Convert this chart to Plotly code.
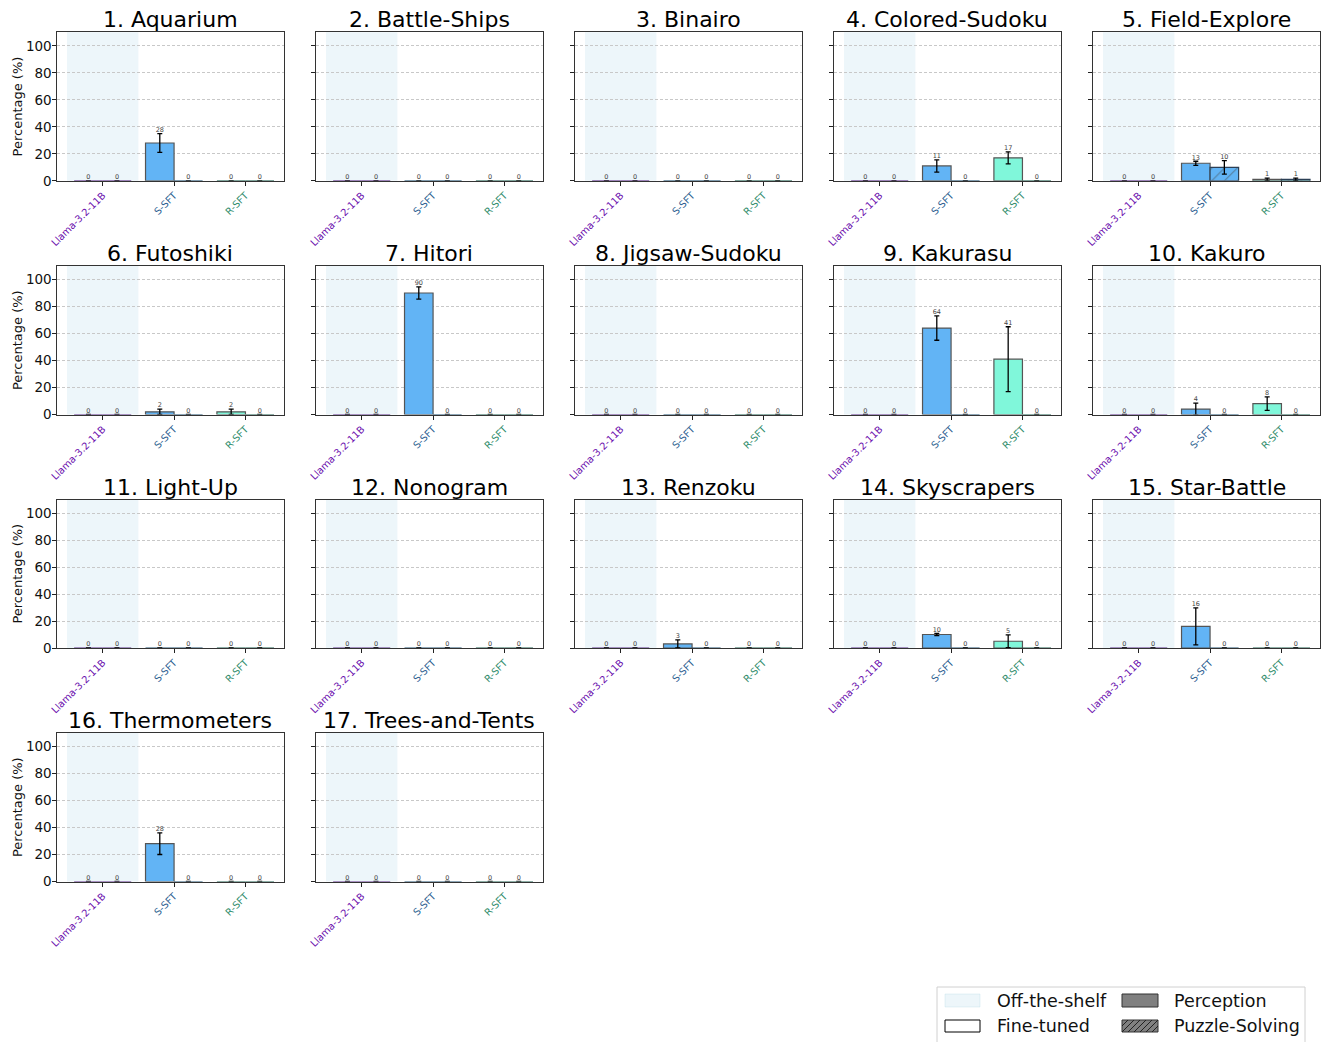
import plotly.graph_objects as go

# ---------------- data ----------------
puzzles = ["1. Aquarium", "2. Battle-Ships", "3. Binairo", "4. Colored-Sudoku", "5. Field-Explore",
           "6. Futoshiki", "7. Hitori", "8. Jigsaw-Sudoku", "9. Kakurasu", "10. Kakuro",
           "11. Light-Up", "12. Nonogram", "13. Renzoku", "14. Skyscrapers", "15. Star-Battle",
           "16. Thermometers", "17. Trees-and-Tents"]
models = ["Llama-3.2-11B", "S-SFT", "R-SFT"]

perception = [[0, 28, 0], [0, 0, 0], [0, 0, 0], [0, 11, 17], [0, 13, 1],
              [0, 2, 2], [0, 90, 0], [0, 0, 0], [0, 64, 41], [0, 4, 8],
              [0, 0, 0], [0, 0, 0], [0, 3, 0], [0, 10, 5], [0, 16, 0],
              [0, 28, 0], [0, 0, 0]]
perception_err = [[0, 7, 0], [0, 0, 0], [0, 0, 0], [0, 4.5, 4.5], [0, 1.5, 1],
                  [0, 2, 2], [0, 4.5, 0], [0, 0, 0], [0, 9, 24], [0, 4.5, 5],
                  [0, 0, 0], [0, 0, 0], [0, 3, 0], [0, 0.8, 4.7], [0, 13.7, 0],
                  [0, 8, 0], [0, 0, 0]]
puzzle_solving = [[0, 0, 0], [0, 0, 0], [0, 0, 0], [0, 0, 0], [0, 10, 1],
                  [0, 0, 0], [0, 0, 0], [0, 0, 0], [0, 0, 0], [0, 0, 0],
                  [0, 0, 0], [0, 0, 0], [0, 0, 0], [0, 0, 0], [0, 0, 0],
                  [0, 0, 0], [0, 0, 0]]
puzzle_err = [[0, 0, 0], [0, 0, 0], [0, 0, 0], [0, 0, 0], [0, 5, 1],
              [0, 0, 0], [0, 0, 0], [0, 0, 0], [0, 0, 0], [0, 0, 0],
              [0, 0, 0], [0, 0, 0], [0, 0, 0], [0, 0, 0], [0, 0, 0],
              [0, 0, 0], [0, 0, 0]]
y_ticks = [0, 20, 40, 60, 80, 100]

# ---------------- style ----------------
W, H = 1323, 1042
FONT = "DejaVu Sans"
bar_colors = ["#8e44ad", "#62b4f5", "#80f7da"]
zero_line_colors = ["#5b2a86", "#1f4e6e", "#1f5e4e"]
label_colors = ["#6a0dad", "#2a5d8f", "#2e8b6a"]
shade = "rgba(173,216,230,0.22)"

col_left = [57, 316, 575, 834, 1093]
row_top = [32.3, 266, 499.5, 733]
ax_w, ax_h = 227, 148.5


def px(x):
    return x / W


def py(y):
    return 1 - y / H


fig = go.Figure()
annotations = []
shapes = []

for i, name in enumerate(puzzles):
    r, c = divmod(i, 5)
    n = i + 1
    xa = "x" if n == 1 else f"x{n}"
    ya = "y" if n == 1 else f"y{n}"
    L, T = col_left[c], row_top[r]

    p_vals = perception[i]
    s_vals = puzzle_solving[i]
    p_err = [e if e else None for e in perception_err[i]]
    s_err = [e if e else None for e in puzzle_err[i]]

    p_line = ["#555555" if v else zero_line_colors[k] for k, v in enumerate(p_vals)]
    s_line = ["#2b3f55" if v else zero_line_colors[k] for k, v in enumerate(s_vals)]

    fig.add_trace(go.Bar(
        x=[0, 1, 2], y=p_vals, offset=-0.4, width=0.4,
        marker=dict(color=bar_colors, line=dict(color=p_line, width=1.2)),
        error_y=dict(type="data", array=p_err, color="black", thickness=1.3, width=2.5),
        xaxis=xa, yaxis=ya, showlegend=False, hoverinfo="skip"))
    fig.add_trace(go.Bar(
        x=[0, 1, 2], y=s_vals, offset=0, width=0.4,
        marker=dict(color=bar_colors, line=dict(color=s_line, width=1.2),
                    pattern=dict(shape="/", fgcolor="#2b3f55", fillmode="overlay", size=9, solidity=0.12)),
        error_y=dict(type="data", array=s_err, color="black", thickness=1.3, width=2.5),
        xaxis=xa, yaxis=ya, showlegend=False, hoverinfo="skip"))

    # value labels
    tx, ty, tt = [], [], []
    for k in range(3):
        tx.append(k - 0.2)
        ty.append(p_vals[k] + perception_err[i][k])
        tt.append(str(p_vals[k]))
        tx.append(k + 0.2)
        ty.append(s_vals[k] + puzzle_err[i][k])
        tt.append(str(s_vals[k]))
    fig.add_trace(go.Scatter(
        x=tx, y=ty, text=tt, mode="text", textposition="top center",
        textfont=dict(size=6.5, color="#444444", family=FONT),
        xaxis=xa, yaxis=ya, showlegend=False, hoverinfo="skip", cliponaxis=False))

    # off-the-shelf shading
    shapes.append(dict(type="rect", xref=xa, yref=f"{ya} domain", x0=-0.5, x1=0.5, y0=0, y1=1,
                       fillcolor=shade, line=dict(width=0), layer="below"))

    ticktext = [f"<span style='color:{label_colors[k]}'>{m}</span>" for k, m in enumerate(models)]
    fig.update_layout({
        ("xaxis" if n == 1 else f"xaxis{n}"): dict(
            domain=[px(L), px(L + ax_w)], anchor=ya, range=[-0.64, 2.54], automargin=False,
            tickvals=[0, 1, 2], ticktext=ticktext, tickangle=-45,
            tickfont=dict(size=9.8, family=FONT),
            ticks="outside", ticklen=4, tickcolor="#222", showgrid=False,
            showline=True, linecolor="#333", linewidth=1.2, mirror=True, zeroline=False),
        ("yaxis" if n == 1 else f"yaxis{n}"): dict(
            domain=[py(T + ax_h), py(T)], anchor=xa, range=[0, 110], automargin=False,
            tickvals=y_ticks, showticklabels=(c == 0),
            tickfont=dict(size=13.5, family=FONT, color="#111"),
            ticks="outside", ticklen=3.5, tickcolor="#222", ticklabelstandoff=-2,
            showgrid=True, gridcolor="#c8c8c8", griddash="3px,2px", gridwidth=0.8,
            showline=True, linecolor="#333", linewidth=1.2, mirror=True, zeroline=False,
            title=dict(text="Percentage (%)" if c == 0 else "", font=dict(size=13, family=FONT, color="#111"),
                       standoff=0)),
    })

    annotations.append(dict(text=name, x=px(L + ax_w / 2), y=py(T + 2), xref="paper", yref="paper",
                            xanchor="center", yanchor="bottom", showarrow=False,
                            font=dict(size=22, family=FONT, color="black")))

# ---------------- manual legend ----------------
shapes.append(dict(type="rect", xref="paper", yref="paper", x0=px(937), x1=px(1305), y0=py(1050), y1=py(987),
                   fillcolor="white", line=dict(color="#d0d0d0", width=1)))
shapes.append(dict(type="rect", xref="paper", yref="paper", x0=px(945), x1=px(980), y0=py(1007), y1=py(994),
                   fillcolor=shade, line=dict(color="rgba(173,216,230,0.35)", width=0.8)))
shapes.append(dict(type="rect", xref="paper", yref="paper", x0=px(945), x1=px(980), y0=py(1032), y1=py(1020),
                   fillcolor="white", line=dict(color="black", width=1)))
shapes.append(dict(type="rect", xref="paper", yref="paper", x0=px(1122), x1=px(1158), y0=py(1007), y1=py(994),
                   fillcolor="#808080", line=dict(color="#333", width=1)))
shapes.append(dict(type="rect", xref="paper", yref="paper", x0=px(1122), x1=px(1158), y0=py(1032), y1=py(1020),
                   fillcolor="#808080", line=dict(color="#333", width=1)))
hx0, hx1, hy0, hy1 = 1122, 1158, 1020, 1032
hh = hy1 - hy0
k = hx0 - hh
while k < hx1:
    xa0, ya0, xa1, ya1 = k, hy1, k + hh, hy0
    if xa0 < hx0:
        ya0 = hy1 - (hx0 - xa0)
        xa0 = hx0
    if xa1 > hx1:
        ya1 = hy0 + (xa1 - hx1)
        xa1 = hx1
    if xa1 > xa0:
        shapes.append(dict(type="line", xref="paper", yref="paper", x0=px(xa0), y0=py(ya0), x1=px(xa1), y1=py(ya1),
                           line=dict(color="#222", width=1)))
    k += 6

legend_texts = [("Off-the-shelf", 995, 1001), ("Fine-tuned", 995, 1026),
                ("Perception", 1172, 1001), ("Puzzle-Solving", 1172, 1026)]
for t, x, y in legend_texts:
    annotations.append(dict(text=t, x=px(x), y=py(y), xref="paper", yref="paper", xanchor="left",
                            yanchor="middle", showarrow=False, font=dict(size=17.5, family=FONT, color="#111")))

fig.update_layout(
    width=W, height=H, autosize=False, margin=dict(l=0, r=0, t=0, b=0, autoexpand=False),
    paper_bgcolor="white", plot_bgcolor="white",
    barmode="overlay", showlegend=False,
    font=dict(family=FONT),
    annotations=annotations, shapes=shapes,
)

post = ("document.documentElement.style.overflow='hidden';"
        "document.body.style.margin='0';document.body.style.overflow='hidden';")
fig.write_html("out.html", config={"displayModeBar": False}, post_script=post)
